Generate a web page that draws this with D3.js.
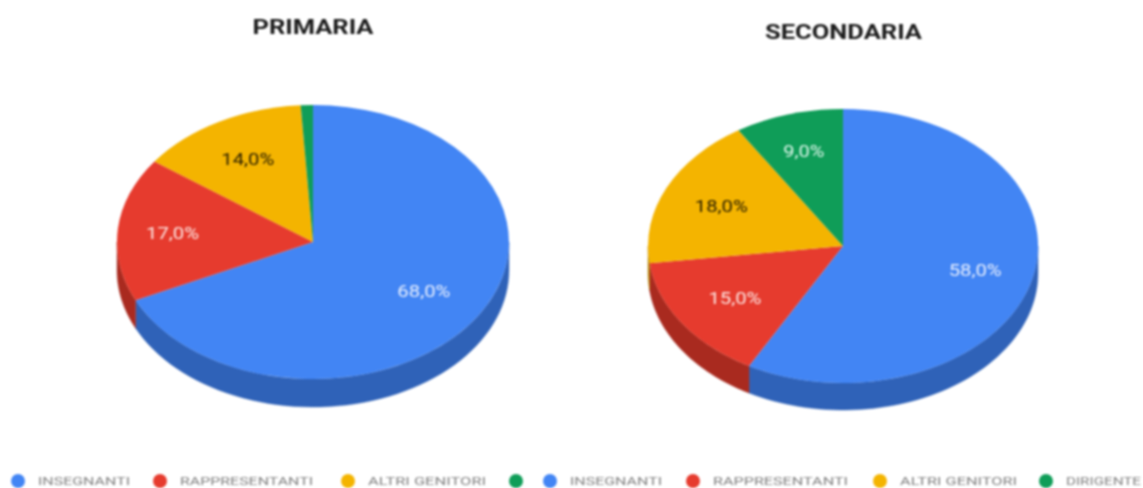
<!DOCTYPE html>
<html><head><meta charset="utf-8">
<script src="https://cdn.jsdelivr.net/npm/d3@7"></script>
<style>html,body{margin:0;padding:0;background:#fff;overflow:hidden}svg{display:block;filter:blur(0.8px)}text{font-family:Roboto,sans-serif}</style>
</head><body><svg id="c" width="1143" height="488"></svg>
<script>
const seriesNames = ["INSEGNANTI","RAPPRESENTANTI","ALTRI GENITORI","DIRIGENTE"];
const primariaValues = [68,17,14,1];
const secondariaValues = [58,15,18,9];
const topColors = ["#4285f4","#e63b2e","#f4b400","#0f9d58"];
const sideColors = ["#2f62b8","#a92a1f","#b58500","#0a7040"];
const labelColors = ["#e6eefe","#fde6e3","#2e2200","#dcf6e9"];
const legendNames = ["INSEGNANTI","RAPPRESENTANTI","ALTRI GENITORI","","INSEGNANTI","RAPPRESENTANTI","ALTRI GENITORI","DIRIGENTE"];
const legendColorIdx = [0,1,2,3,0,1,2,3];

const pies = [
 {title:"PRIMARIA",values:primariaValues,cx:313,cy:242,rx:196,ry:137,depth:28,tx:313,ty:34,tw:121,lr:[.67,.72,.69,.7]},
 {title:"SECONDARIA",values:secondariaValues,cx:843,cy:246,rx:195,ry:137,depth:27,tx:843.5,ty:39,tw:157,lr:[.70,.67,.69,.72]}
];
const legendDotX=[18,160,348,516,550,693,880,1046];
const legendTextW=[92,133,118,0,92,135,117,75];
const svg=d3.select("#c");
const pieGen=d3.pie().sort(null).value(d=>d);

pies.forEach(p=>{
  const g=svg.append("g");
  const slices=pieGen(p.values);
  const x=d3.scaleLinear().domain([0,1]).range([p.cx,p.cx+p.rx]);
  const y=d3.scaleLinear().domain([0,1]).range([p.cy,p.cy+p.ry]);
  slices.forEach((s,i)=>{
    const a0=Math.max(s.startAngle,Math.PI/2), a1=Math.min(s.endAngle,3*Math.PI/2);
    if(a1<=a0) return;
    const area=d3.area()
      .x(a=>x(Math.sin(a)))
      .y0(a=>y(-Math.cos(a)))
      .y1(a=>y(-Math.cos(a))+p.depth);
    g.append("path").attr("d",area(d3.range(0,61).map(k=>a0+(a1-a0)*k/60))).attr("fill",sideColors[i]).attr("stroke",sideColors[i]).attr("stroke-width",0.4);
  });
  const arc=d3.arc().innerRadius(0).outerRadius(1);
  const top=g.append("g").attr("transform",`translate(${p.cx},${p.cy}) scale(${p.rx},${p.ry})`);
  top.selectAll("path").data(slices).join("path").attr("d",arc)
    .attr("fill",(d,i)=>topColors[i]);
  slices.forEach((s,i)=>{
    if(s.value<5) return;
    const m=(s.startAngle+s.endAngle)/2, f=p.lr[i];
    const t=d3.format(".1f")(s.value).replace(".",",")+"%";
    g.append("text").attr("x",x(f*Math.sin(m))).attr("y",y(-f*Math.cos(m))+6)
      .attr("text-anchor","middle").attr("font-size",16).attr("fill",labelColors[i])
      .attr("textLength",t.length===4?41:53).attr("lengthAdjust","spacingAndGlyphs")
      .text(t);
  });
  svg.append("text").attr("x",p.tx).attr("y",p.ty).attr("text-anchor","middle")
    .attr("font-size",21).attr("font-weight",700).attr("fill","#1c1c1c")
    .attr("textLength",p.tw).attr("lengthAdjust","spacingAndGlyphs").text(p.title);
});

legendNames.forEach((n,i)=>{
  svg.append("circle").attr("cx",legendDotX[i]).attr("cy",481).attr("r",7).attr("fill",topColors[legendColorIdx[i]]);
  if(n) svg.append("text").attr("x",legendDotX[i]+20).attr("y",485).attr("font-size",11.5).attr("fill","#808080")
    .attr("textLength",legendTextW[i]).attr("lengthAdjust","spacingAndGlyphs").text(n);
});
</script></body></html>
